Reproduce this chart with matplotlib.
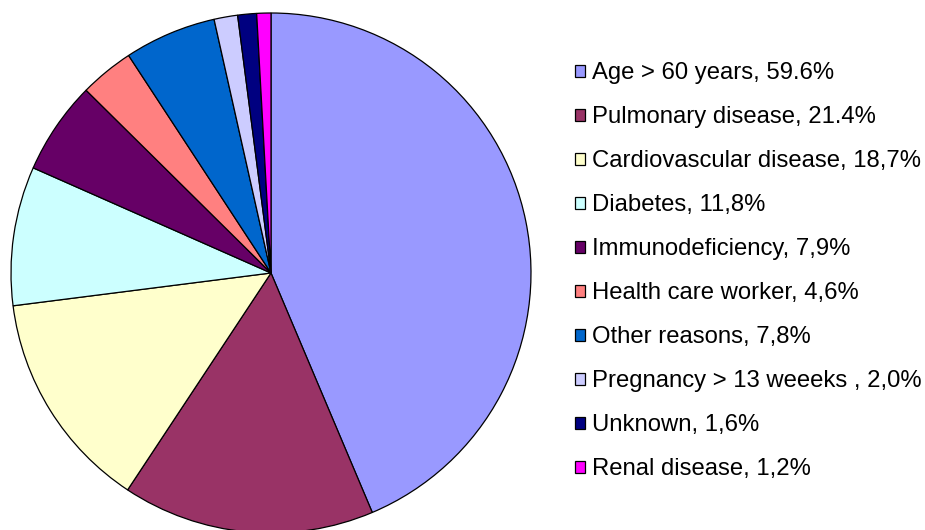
import matplotlib
matplotlib.use("Agg")
import matplotlib.pyplot as plt

categories = ["Age > 60 years, 59.6%", "Pulmonary disease, 21.4%", "Cardiovascular disease, 18,7%",
              "Diabetes, 11,8%", "Immunodeficiency, 7,9%", "Health care worker, 4,6%",
              "Other reasons, 7,8%", "Pregnancy > 13 weeeks , 2,0%", "Unknown, 1,6%",
              "Renal disease, 1,2%"]
values = [59.6, 21.4, 18.7, 11.8, 7.9, 4.6, 7.8, 2.0, 1.6, 1.2]
colors = ["#9999FF", "#993366", "#FFFFCC", "#CCFFFF", "#660066", "#FF8080",
          "#0066CC", "#CCCCFF", "#000080", "#FF00FF"]

plt.rcParams['font.family'] = ['Liberation Sans', 'DejaVu Sans']

W, H = 925, 530
fig = plt.figure(figsize=(W/100, H/100), dpi=100)
cx, cy, r = 271, 273, 260
ax = fig.add_axes([(cx - r)/W, (H - cy - r)/H, 2*r/W, 2*r/H])
wedges, _ = ax.pie(values, colors=colors, startangle=90, counterclock=False, radius=1,
                   wedgeprops=dict(edgecolor="black", linewidth=0.9))
ax.set_xlim(-1, 1)
ax.set_ylim(-1, 1)
ax.set_aspect('equal')
ax.axis('off')

fig.legend(wedges, categories, loc="upper left", bbox_to_anchor=(575/W, 1 - 62.5/H),
           frameon=False, fontsize=17.2, handlelength=0.42, handleheight=0.42,
           handletextpad=0.3, labelspacing=0.92, borderpad=0, borderaxespad=0)

fig.savefig("out.png", dpi=100)
